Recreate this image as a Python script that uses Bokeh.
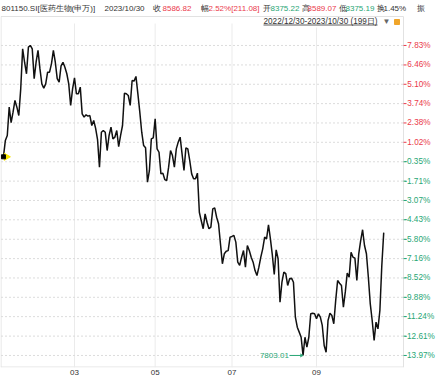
import numpy as np
from bokeh.plotting import figure
from bokeh.models import Range1d, FixedTicker, Arrow, OpenHead
from bokeh.core.properties import value
from bokeh.embed import file_html
from bokeh.resources import INLINE

# ---------------- data ----------------
# cumulative change (%) vs 2022/12/30 close, one value per trading day (199 days)
pct_change = [
    0.00, 1.15, 1.50, 3.49, 2.40, 3.14, 3.96, 3.49, 2.90, 4.78,
    7.59, 6.65, 5.84, 7.71, 7.83, 7.59, 5.49, 6.65, 7.48, 6.20,
    5.13, 4.83, 5.13, 5.95, 5.95, 6.54, 7.48, 6.65, 5.50, 5.25,
    6.40, 6.65, 6.30, 5.84, 5.13, 3.61, 4.78, 5.55, 4.43, 4.43,
    4.90, 3.02, 2.79, 2.95, 2.86, 2.90, 2.20, 2.55, 2.00, 1.20,
    -0.73, 1.73, 1.85, 1.73, 0.44, 1.50, 2.08, 1.26, 1.38, 1.85,
    0.72, 1.50, 2.20, 4.47, 4.43, 4.31, 3.61, 5.37, 5.32, 5.65,
    4.43, 3.14, 1.73, 0.79, 0.63, -1.79, -0.96, 1.26, 1.33, 2.67,
    0.56, 0.32, -1.20, -1.15, -1.60, -1.67, -0.73, 0.44, 0.09, -0.73,
    0.56, 1.03, 1.38, 0.21, -0.96, 0.63, 0.56, -0.26, -1.20, -1.55,
    -1.55, -1.15, -3.90, -4.50, -5.06, -4.01, -4.60, -5.06, -4.95, -3.66,
    -3.59, -4.25, -4.71, -6.12, -7.52, -6.82, -6.64, -6.60, -5.65, -5.60,
    -5.53, -6.00, -7.41, -7.64, -7.06, -6.59, -7.76, -6.24, -6.59, -7.06,
    -7.41, -8.00, -8.35, -7.76, -7.06, -6.47, -5.65, -5.77, -4.78, -5.77,
    -6.90, -8.28, -6.54, -7.17, -10.22, -8.82, -8.11, -8.22, -9.05, -8.58,
    -8.53, -8.82, -11.28, -11.98, -12.33, -12.69, -13.97, -12.69, -13.39, -12.69,
    -11.04, -11.00, -11.04, -11.39, -11.04, -11.28, -11.86, -13.27, -13.74, -11.51,
    -11.00, -11.16, -11.74, -10.10, -8.70, -8.89, -9.05, -10.58, -9.50, -8.18,
    -8.47, -6.71, -7.06, -7.13, -8.70, -6.82, -5.89, -5.13, -6.24, -6.82,
    -8.47, -10.34, -11.51, -12.92, -11.63, -12.10, -10.81, -7.66, -5.33,
]
days = list(range(len(pct_change)))
low_price = 7803.01

month_ticks = [37, 79, 119, 163]          # trading-day index of first session of month
month_labels = ["03", "05", "07", "09"]

y_tick_labels = ["7.83%", "6.46%", "5.10%", "3.74%", "2.38%", "1.02%", "-0.35%",
                 "-1.71%", "-3.07%", "-4.43%", "-5.80%", "-7.16%", "-8.52%",
                 "-9.88%", "-11.24%", "-12.61%", "-13.97%"]
y_ticks = [float(s.rstrip("%")) for s in y_tick_labels]

header_texts = ["801150.SI[医药生物(申万)]", "2023/10/30", "收", "8586.82", "幅",
                "2.52%[211.08]", "开", "8375.22", "高", "8589.07", "低", "8375.19",
                "换", "1.45%", "振"]
header_kinds = ["n", "n", "n", "up", "n", "up", "n", "dn", "n", "up", "n", "dn",
                "n", "n", "n"]
period_text = "2022/12/30-2023/10/30 (199日)"

# ---------------- style / layout ----------------
RED = "#ea3a4b"
GREEN = "#27a674"
DARK = "#333333"
FONT_NAME = "Liberation Sans"
FONT = value(FONT_NAME)
FS = "8.2px"
FS_HEAD = "8px"

W, H = 439, 384
BOTTOM = 17
FRAME_H = H - BOTTOM
PX_PER_DAY = 1.9206
X_DAY0 = 2.94            # pixel of first trading day
PX_PER_PCT = 14.22
Y_PCT0 = 156.3           # pixel row of 0 %

X0 = (0 - X_DAY0) / PX_PER_DAY
X1 = (W - X_DAY0) / PX_PER_DAY
Y1 = (Y_PCT0 - 0) / PX_PER_PCT
Y0 = (Y_PCT0 - FRAME_H) / PX_PER_PCT


def dx(px):
    return (px - X_DAY0) / PX_PER_DAY


def dy(py):
    return (Y_PCT0 - py) / PX_PER_PCT


CHART_R = 403      # right edge of plotting area (pixel)
CHART_T = 16       # top edge of plotting area (pixel)

p = figure(width=W, height=H, output_backend="svg", toolbar_location=None, tools="",
           x_range=Range1d(X0, X1), y_range=Range1d(Y0, Y1),
           y_axis_location=None, min_border_left=0, min_border_right=0,
           min_border_top=0, min_border_bottom=BOTTOM)
p.background_fill_color = "white"
p.border_fill_color = "white"
p.outline_line_color = None
p.xgrid.visible = False
p.ygrid.visible = False

# bottom axis (months)
p.xaxis.ticker = FixedTicker(ticks=month_ticks)
p.xaxis.major_label_overrides = dict(zip(month_ticks, month_labels))
p.xaxis.major_tick_out = 0
p.xaxis.major_tick_in = 0
p.xaxis.minor_tick_line_color = None
p.xaxis.axis_line_color = None
p.xaxis.major_label_text_font_size = "8px"
p.xaxis.major_label_text_font = FONT_NAME
p.xaxis.major_label_text_color = DARK
p.xaxis.major_label_standoff = 2

# frame of the chart area
p.segment([dx(0.5), dx(0.5), dx(CHART_R), dx(0)],
          [dy(CHART_T), dy(CHART_T), dy(CHART_T), dy(FRAME_H - 0.5)],
          [dx(CHART_R), dx(0.5), dx(CHART_R), dx(CHART_R)],
          [dy(CHART_T), dy(FRAME_H), dy(FRAME_H), dy(FRAME_H - 0.5)],
          line_color="#e2e2e2", line_width=1)

# vertical grid lines at month ticks
n_m = len(month_ticks)
p.segment(month_ticks, [dy(23)] * n_m, month_ticks, [dy(FRAME_H)] * n_m,
          line_color="#ebebeb", line_width=1)

# horizontal dashed grid lines + colored ticks
n_y = len(y_ticks)
p.segment([dx(0.5)] * n_y, y_ticks, [dx(CHART_R)] * n_y, y_ticks,
          line_color="#dcdcdc", line_width=1, line_dash="2 2")
tick_cols = [RED if v > 0 else GREEN for v in y_ticks]
p.segment([dx(CHART_R)] * n_y, y_ticks, [dx(CHART_R + 3)] * n_y, y_ticks,
          line_color=tick_cols, line_width=1)

# percent labels
p.text([dx(CHART_R + 3.8) if v > 0 else dx(CHART_R + 0.8) for v in y_ticks], y_ticks,
       text=y_tick_labels, text_color=tick_cols, text_font_size=FS, text_font=FONT,
       text_baseline="middle", text_align="left")

# price line
p.line(days, pct_change, line_color="#111111", line_width=1.5)

# start marker
p.scatter([days[0] + 1.5], [pct_change[0]], marker="triangle", angle=-np.pi / 2,
          size=7, fill_color="#f7e600", line_color="#f7e600")
p.scatter([days[0]], [pct_change[0]], marker="square", size=4,
          fill_color="black", line_color="black")

# minimum annotation
imin = int(np.argmin(pct_change))
vmin = pct_change[imin]
p.add_layout(Arrow(end=OpenHead(size=3, line_color=GREEN, line_width=1),
                   x_start=imin - 7, y_start=vmin, x_end=imin, y_end=vmin,
                   line_color=GREEN, line_width=1))
p.text([imin - 7.4], [vmin], text=[f"{low_price:.2f}"], text_align="right",
       text_baseline="middle", text_font_size="8px", text_font=FONT, text_color=GREEN)

# header row
header_x = [1, 104, 152, 162, 200, 208, 262, 270, 301, 307, 338, 345, 376, 383, 416]
header_cols = [RED if k == "up" else (GREEN if k == "dn" else DARK) for k in header_kinds]
p.text([dx(v) for v in header_x], [dy(8)] * len(header_x), text=header_texts,
       text_color=header_cols, text_font_size=FS_HEAD, text_font=FONT,
       text_baseline="middle", text_align="left")

# period selector
p.quad(left=[dx(262)], right=[dx(378)], top=[dy(16.5)], bottom=[dy(27)],
       fill_color="white", line_color=None)
p.text([dx(263)], [dy(20.5)], text=[period_text], text_color=DARK,
       text_font_size=FS, text_font=FONT, text_baseline="middle", text_align="left")
p.segment([dx(263)], [dy(24.5)], [dx(377)], [dy(24.5)], line_color=DARK, line_width=0.8)
p.text([dx(382)], [dy(20.5)], text=["▼"], text_color="#666666",
       text_font_size="8px", text_font=FONT, text_baseline="middle", text_align="left")
p.scatter([dx(396.5)], [dy(21.5)], marker="square", size=5, fill_color="#f0a52a",
          line_color="#f0a52a")

open("out.html", "w").write(file_html(p, INLINE))
